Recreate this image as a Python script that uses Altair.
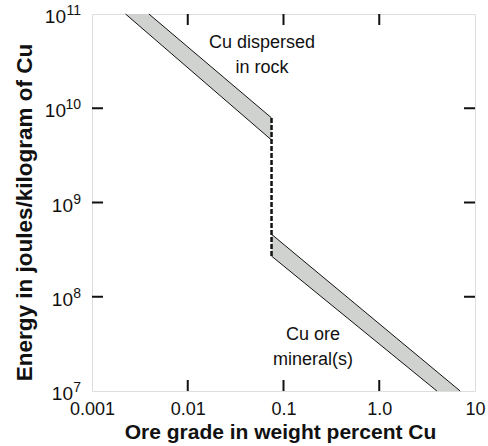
import altair as alt
import pandas as pd

# ---- data ----
x_ticks = [0.001, 0.01, 0.1, 1, 10]
x_tick_labels = ["0.001", "0.01", "0.1", "1.0", "10"]
y_ticks = [1e7, 1e8, 1e9, 1e10, 1e11]
y_exponents = ["7", "8", "9", "10", "11"]
inner_x_ticks = [0.01, 0.1, 1]
inner_y_ticks = [1e8, 1e9, 1e10]

# band: Cu dispersed in rock
rock_x = [0.00224, 0.00393, 0.075]
rock_hi = [1e11, 1e11, 7.9e9]
rock_lo = [1e11, 6.15e10, 4.6e9]
# band: Cu ore mineral(s)
ore_x = [0.075, 4.0, 7.0]
ore_hi = [4.6e8, 1.6e7, 1e7]
ore_lo = [2.7e8, 1e7, 1e7]

# band outlines
edge_names = ["rock upper", "rock upper", "rock lower", "rock lower",
              "ore upper", "ore upper", "ore lower", "ore lower"]
edge_x = [0.00393, 0.075, 0.00224, 0.075, 0.075, 7.0, 0.075, 4.0]
edge_y = [1e11, 7.9e9, 1e11, 4.6e9, 4.6e8, 1e7, 2.7e8, 1e7]

# dashed jump
jump_x = [0.075]
jump_top = [7.9e9]
jump_bottom = [2.7e8]

# annotations (position of the first line)
label_text = ["Cu dispersed\nin rock", "Cu ore\nmineral(s)"]
label_x = [0.0596, 0.203]
label_y = [4.9e10, 3.95e7]

W, H = 383, 377
FONT = "Liberation Sans"

label_expr = " : ".join(
    f"datum.value == {v} ? '{t}'" for v, t in zip(x_ticks[:-1], x_tick_labels[:-1])
) + f" : '{x_tick_labels[-1]}'"

x_scale = alt.Scale(type="log", domain=[0.001, 10], nice=False)
y_scale = alt.Scale(type="log", domain=[1e7, 1e11], nice=False)

x_axis = alt.Axis(values=x_ticks, labelExpr=label_expr, ticks=False, domain=False,
                  grid=False, labelFontSize=18, labelFont=FONT, labelColor="#111",
                  labelPadding=9, labelOverlap=False, labelFlush=False, labelBound=False,
                  title="Ore grade in weight percent Cu", titleFont=FONT,
                  titleFontSize=21, titleFontWeight="bold", titleColor="#111",
                  titlePadding=3, titleX=188)
y_axis = alt.Axis(values=y_ticks, labels=False, ticks=False, domain=False, grid=False,
                  title="Energy in joules/kilogram of Cu", titleFont=FONT,
                  titleFontSize=22.5, titleFontWeight="bold", titleColor="#111",
                  titlePadding=56, titleY=198)


def xe(field):
    return alt.X(f"{field}:Q", scale=x_scale, axis=x_axis)


def ye(field):
    return alt.Y(f"{field}:Q", scale=y_scale, axis=y_axis)


rock_df = pd.DataFrame({"x": rock_x, "hi": rock_hi, "lo": rock_lo})
ore_df = pd.DataFrame({"x": ore_x, "hi": ore_hi, "lo": ore_lo})
edge_df = pd.DataFrame({"edge": edge_names, "x": edge_x, "y": edge_y})
jump_df = pd.DataFrame({"x": jump_x, "top": jump_top, "bottom": jump_bottom})
lab_df = pd.DataFrame({"text": label_text, "x": label_x, "y": label_y})
ytl_df = pd.DataFrame({"y": y_ticks, "exp": y_exponents})
xt_df = pd.DataFrame({"x": inner_x_ticks})
yt_df = pd.DataFrame({"y": inner_y_ticks})

fill = "#d0d2d0"

rock_area = alt.Chart(rock_df).mark_area(color=fill, opacity=1).encode(
    x=xe("x"), y=ye("hi"), y2="lo:Q")
ore_area = alt.Chart(ore_df).mark_area(color=fill, opacity=1).encode(
    x=xe("x"), y=ye("hi"), y2="lo:Q")
edges = alt.Chart(edge_df).mark_line(color="#111", strokeWidth=1).encode(
    x=xe("x"), y=ye("y"), detail="edge:N")
jump = alt.Chart(jump_df).mark_rule(color="#111", strokeWidth=2.5, strokeDash=[5, 2]).encode(
    x=xe("x"), y=ye("top"), y2="bottom:Q")
labels = alt.Chart(lab_df).mark_text(font=FONT, fontSize=18, lineBreak="\n", lineHeight=25,
                                     align="center", baseline="middle", color="#111").encode(
    x=xe("x"), y=ye("y"), text="text:N")

ten2 = alt.Chart(ytl_df).transform_filter("length(datum.exp) == 2").mark_text(
    font=FONT, fontSize=19, align="right", baseline="middle", dy=3, color="#111").encode(
    x=alt.value(-26), y=ye("y"), text=alt.value("10"))
ten1 = alt.Chart(ytl_df).transform_filter("length(datum.exp) == 1").mark_text(
    font=FONT, fontSize=19, align="right", baseline="middle", dy=3, color="#111").encode(
    x=alt.value(-19), y=ye("y"), text=alt.value("10"))
exps = alt.Chart(ytl_df).mark_text(
    font=FONT, fontSize=14, align="right", baseline="middle", dy=-3, color="#111").encode(
    x=alt.value(-11), y=ye("y"), text="exp:N")

tick_style = dict(color="#111", strokeWidth=2)
t_bottom = alt.Chart(xt_df).mark_rule(**tick_style).encode(
    x=xe("x"), y=alt.value(H), y2=alt.value(H - 11))
t_top = alt.Chart(xt_df).mark_rule(**tick_style).encode(
    x=xe("x"), y=alt.value(0), y2=alt.value(11))
t_left = alt.Chart(yt_df).mark_rule(**tick_style).encode(
    y=ye("y"), x=alt.value(0), x2=alt.value(11))
t_right = alt.Chart(yt_df).mark_rule(**tick_style).encode(
    y=ye("y"), x=alt.value(W), x2=alt.value(W - 11))

chart = alt.layer(
    rock_area, ore_area, edges, jump, labels, ten2, ten1, exps,
    t_bottom, t_top, t_left, t_right
).properties(
    width=W, height=H,
    autosize=alt.AutoSizeParams(type="none"),
    padding={"left": 92, "top": 14, "right": 13, "bottom": 55},
).configure_view(
    stroke="#111", strokeWidth=2
).configure(background="white")

chart.save("out.html", embed_options={"renderer": "svg", "actions": False})
